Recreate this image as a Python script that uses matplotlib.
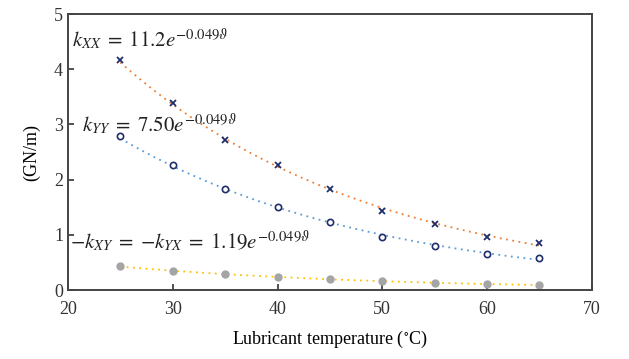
import numpy as np
import matplotlib
matplotlib.use("Agg")
import matplotlib.pyplot as plt

plt.rcParams['font.family'] = ['Liberation Serif', 'DejaVu Serif']
plt.rcParams['mathtext.fontset'] = 'stix'

# lubricant temperature (deg C)
temps = [25, 30, 35, 40, 45, 50, 55, 60, 65]
# stiffness coefficients (GN/m)
k_xx = [4.17, 3.39, 2.72, 2.26, 1.83, 1.43, 1.20, 0.96, 0.85]
k_yy = [2.79, 2.26, 1.83, 1.50, 1.23, 0.96, 0.80, 0.65, 0.58]
k_xy = [0.43, 0.34, 0.29, 0.24, 0.20, 0.16, 0.13, 0.11, 0.09]

eq_xx = r'$k_{XX}\;=\;11.2e^{-0.049\vartheta}$'
eq_yy = r'$k_{YY}\;=\;7.50e^{-0.049\vartheta}$'
eq_xy = r'${-}k_{XY}\;=\;{-}k_{YX}\;=\;1.19e^{-0.049\vartheta}$'

navy = '#1F2F6B'


def exp_trend(x, y):
    # exponential trendline fitted to the points
    b, a = np.polyfit(x, np.log(y), 1)
    xs = np.linspace(min(x), max(x), 200)
    return xs, np.exp(a) * np.exp(b * xs)


fig = plt.figure(figsize=(6.29, 3.59), dpi=100)
ax = fig.add_axes([0.108, 0.192, 0.833, 0.769])

for y, lc in [(k_xx, '#ED7D31'), (k_yy, '#5B9BD5'), (k_xy, '#FFC000')]:
    xs, ys = exp_trend(temps, y)
    ax.plot(xs, ys, color=lc, lw=1.3, ls=(0, (1, 2.5)))

ax.plot(temps, k_xx, ls='none', marker='x', ms=4, mew=1.3, color=navy)
ax.plot(temps, k_yy, ls='none', marker='o', ms=4.5, mew=1.2, mfc='white', mec=navy)
ax.plot(temps, k_xy, ls='none', marker='o', ms=5, color='#A5A5A5')

ax.text(20.4, 4.55, eq_xx, fontsize=15, va='center', ha='left', color='#222222')
ax.text(21.3, 3.0, eq_yy, fontsize=15, va='center', ha='left', color='#222222')
ax.text(20.2, 0.88, eq_xy, fontsize=15, va='center', ha='left', color='#222222')

ax.set_xlim(20, 70)
ax.set_ylim(0, 5)
ax.set_xticks([20, 30, 40, 50, 60, 70])
ax.set_yticks([0, 1, 2, 3, 4, 5])
ax.tick_params(direction='in', length=4, width=1.2, labelsize=13, colors='#333333')
ax.tick_params(axis='x', pad=8)
for s in ax.spines.values():
    s.set_color('#444444')
    s.set_linewidth(1.4)

ax.set_xlabel('Lubricant temperature ($^{\\circ}$C)', fontsize=13, labelpad=8)
ax.set_ylabel('(GN/m)', fontsize=13, labelpad=10)

fig.savefig('out.png', dpi=100)
